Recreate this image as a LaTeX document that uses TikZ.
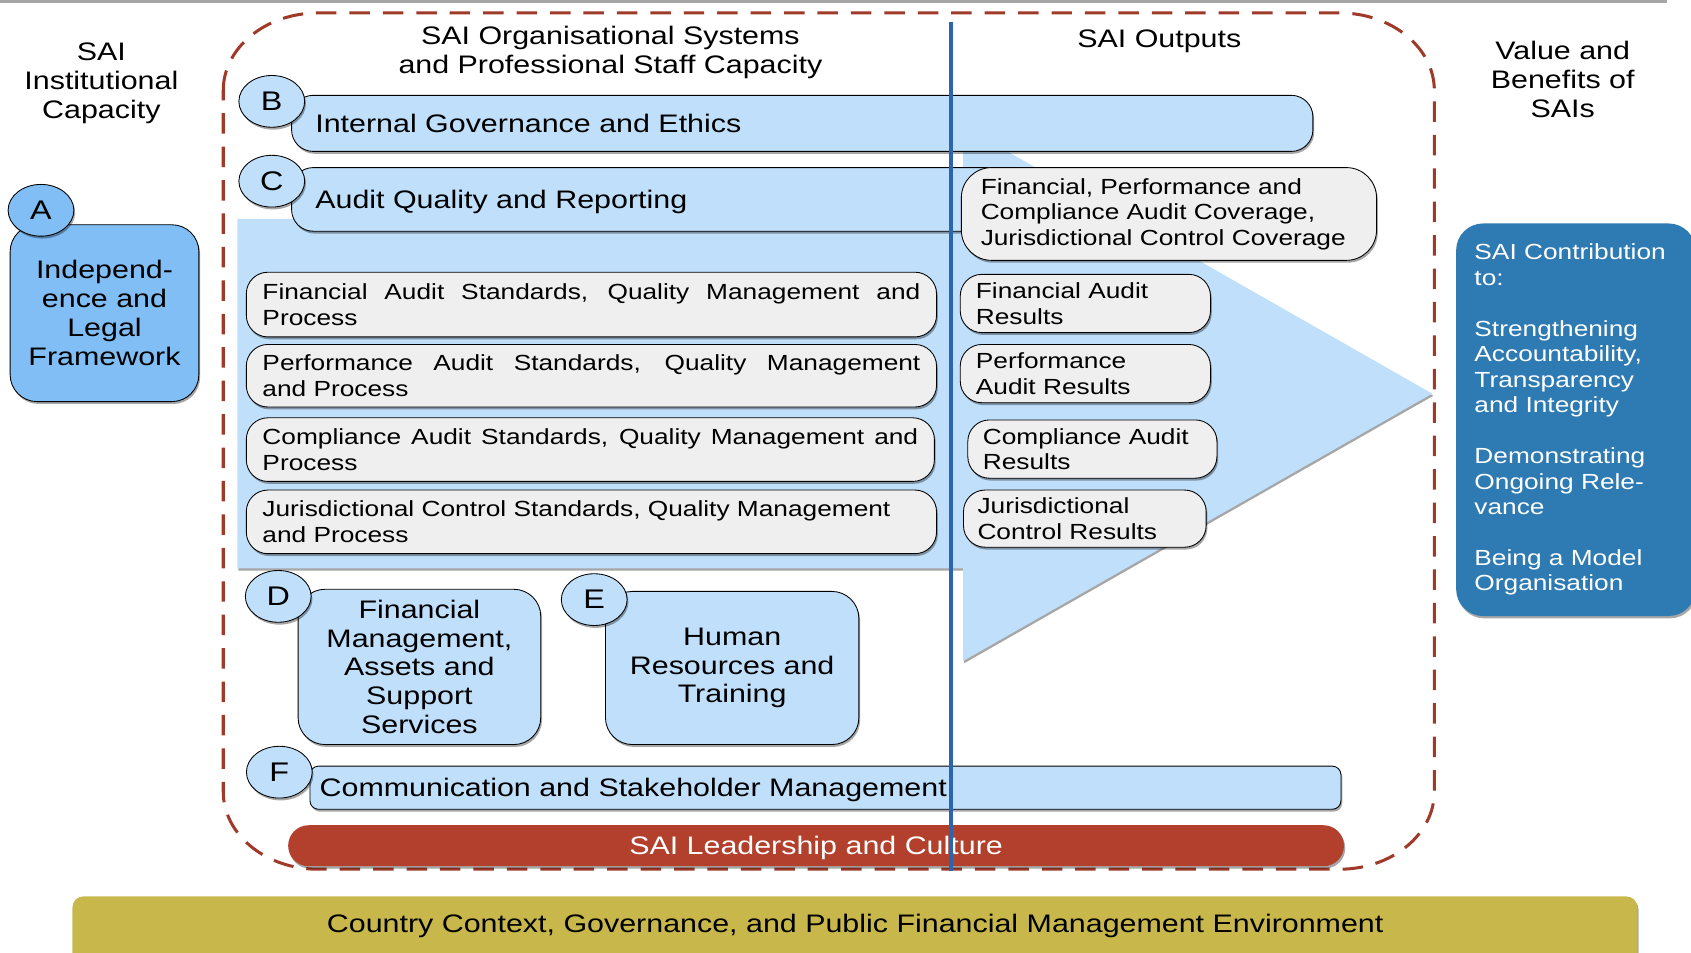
\documentclass[tikz,border=0pt]{standalone}
\usepackage{fontspec}
\setmainfont[FakeStretch=1.2]{Liberation Sans}
\usetikzlibrary{shapes.geometric,shadows}
\definecolor{lblue}{HTML}{BFDFFB}
\definecolor{ablue}{HTML}{80BEF5}
\definecolor{vblue}{HTML}{2E7AB2}
\definecolor{leadred}{HTML}{B2402C}
\definecolor{olive}{HTML}{C8B84C}
\definecolor{gfill}{HTML}{EFEFEF}
\definecolor{dashcol}{HTML}{A03A28}
\definecolor{bline}{HTML}{2A66B0}
\newcommand\fbig{\fontsize{23.5}{27}\selectfont}
\newcommand\fmid{\fontsize{23.5}{26.75}\selectfont}
\newcommand\fsm{\fontsize{20.3}{23.6}\selectfont}
\newcommand\fbadge{\fontsize{25}{28}\selectfont}
\begin{document}
\begin{tikzpicture}[x=1pt,y=-1pt,
  shad/.style={drop shadow={shadow xshift=1.2pt,shadow yshift=-2.2pt,opacity=0.35,fill=black}},
  bar/.style={draw=black,line width=0.8pt,fill=lblue,rounded corners=20pt,shad,anchor=north west,inner ysep=0pt,align=left,font=\fbig,text depth=0pt},
  gbox/.style={draw=black,line width=0.8pt,fill=gfill,rounded corners=20pt,shad,anchor=north west,inner ysep=0pt,font=\fsm},
  cbox/.style={draw=black,line width=0.8pt,fill=lblue,rounded corners=25pt,shad,anchor=north west,inner ysep=0pt,align=center,font=\fmid},
  badge/.style={ellipse,draw=black,line width=0.8pt,fill=lblue,shad,minimum width=61pt,minimum height=48pt,inner sep=0pt,font=\fbadge},
  hdr/.style={align=center,font=\fbig},
]
\useasboundingbox (0,0) rectangle (1568,883);
\clip (0,0) rectangle (1568,883);

% top grey rule
\coordinate (gl1) at (0,1.2);
\coordinate (gl2) at (1546,1.2);
\draw[black!35,line width=2.4pt] (gl1) -- (gl2);

% dashed outline
\draw[dashcol,line width=2.8pt,dash pattern=on 19pt off 12pt]
  (207,84) .. controls (207,44.2) and (246.4,12) .. (295,12) -- (1242,12)
  .. controls (1290.6,12) and (1330,44.2) .. (1330,84) -- (1330,734)
  .. controls (1330,773.8) and (1290.6,806) .. (1242,806) -- (295,806)
  .. controls (246.4,806) and (207,773.8) .. (207,734) -- cycle;

% big light-blue arrow
\fill[lblue,drop shadow={shadow xshift=1pt,shadow yshift=-2pt,opacity=0.35,fill=black}]
  (220,203) -- (893,203) -- (893,117) -- (1328,365) -- (893,613) -- (893,527) -- (220,527) -- cycle;

% headers
\node[hdr] (hA) at (94,77) {SAI\\Institutional\\Capacity};
\node[hdr] (hB) at (566,49) {SAI Organisational Systems\\and Professional Staff Capacity};
\node[hdr] (hC) at (1075,38) {SAI Outputs};
\node[hdr] (hD) at (1449,74) {Value and\\Benefits of\\SAIs};

% B and C bars
\node[bar,minimum width=947pt,minimum height=52pt,text width=903pt,inner xsep=22pt] (barB) at (270,88) {Internal Governance and Ethics};
\node[bar,minimum width=880pt,minimum height=59pt,text width=836pt,inner xsep=22pt] (barC) at (270,155) {Audit Quality and Reporting};

% coverage box
\node[gbox,rounded corners=28pt,minimum width=385pt,minimum height=86pt,text width=349pt,inner xsep=18pt,align=left] (cov) at (891,155)
  {Financial, Performance and\\Compliance Audit Coverage,\\Jurisdictional Control Coverage};

% standards boxes
\node[gbox,minimum width=640pt,minimum height=60pt,text width=610pt,inner xsep=15pt,align=justify] (std1) at (228,252)
  {Financial Audit Standards, Quality Management and\linebreak Process};
\node[gbox,minimum width=640pt,minimum height=58pt,text width=610pt,inner xsep=15pt,align=justify] (std2) at (228,319)
  {Performance Audit Standards, Quality Management\linebreak and Process};
\node[gbox,minimum width=638pt,minimum height=59pt,text width=608pt,inner xsep=15pt,align=justify] (std3) at (228,387)
  {Compliance Audit Standards, Quality Management and\linebreak Process};
\node[gbox,minimum width=640pt,minimum height=59pt,text width=610pt,inner xsep=15pt,align=justify] (std4) at (228,454)
  {Jurisdictional Control Standards, Quality Management\\and Process};

% result boxes
\node[gbox,minimum width=232pt,minimum height=54pt,text width=203pt,inner xsep=14.5pt,align=left] (res1) at (890,254) {Financial Audit\\Results};
\node[gbox,minimum width=232pt,minimum height=54pt,text width=203pt,inner xsep=14.5pt,align=left] (res2) at (890,319) {Performance\\Audit Results};
\node[gbox,minimum width=231pt,minimum height=54pt,text width=203pt,inner xsep=14pt,align=left] (res3) at (897,389) {Compliance Audit\\Results};
\node[gbox,minimum width=225pt,minimum height=53pt,text width=199pt,inner xsep=13pt,align=left] (res4) at (893,454) {Jurisdictional\\Control Results};

% D, E boxes
\node[cbox,minimum width=225pt,minimum height=144pt,text width=205pt] (boxD) at (276,546)
  {Financial\\Management,\\Assets and\\Support\\Services};
\node[cbox,minimum width=235pt,minimum height=142pt,text width=215pt] (boxE) at (561,548)
  {Human\\Resources and\\Training};

% F bar
\node[bar,rounded corners=8pt,minimum width=956pt,minimum height=40pt,text width=938pt,inner xsep=9pt] (barF) at (287,710)
  {Communication and Stakeholder Management};

% leadership bar
\node[fill=leadred,rounded corners=19pt,shad,anchor=north west,minimum width=979pt,minimum height=38pt,inner sep=0pt,text=white,font=\fbig,text depth=0pt] (lead) at (267,765)
  {SAI Leadership and Culture};

% blue divider line
\coordinate (vtop) at (882,20);
\coordinate (vbot) at (882,808);
\draw[bline,line width=3.4pt] (vtop) -- (vbot);

% badges
\node[badge] (bB) at (252,94) {B};
\node[badge] (bC) at (252,168) {C};
\node[badge] (bD) at (258,553) {D};
\node[badge] (bE) at (551,556) {E};
\node[badge] (bF) at (259,716) {F};

% A box
\node[cbox,fill=ablue,minimum width=175pt,minimum height=164pt,text width=160pt,font=\fbig] (boxA) at (9,208)
  {Independ-\\ence and\\Legal\\Framework};
\node[badge,fill=ablue] (bA) at (38,195) {A};

% value box
\node[fill=vblue,rounded corners=25pt,shad,anchor=north west,minimum width=222pt,minimum height=364pt,text width=188pt,inner xsep=17pt,inner ysep=0pt,align=left,text=white,font=\fsm] (val) at (1350,207)
  {SAI Contribution\\to:\\[23.6pt]Strengthening\\Accountability,\\Transparency\\and Integrity\\[23.6pt]Demonstrating\\Ongoing Rele-\\vance\\[23.6pt]Being a Model\\Organisation};

% country bar
\node[fill=olive,rounded corners=10pt,shad,anchor=north west,minimum width=1451pt,minimum height=70pt,inner sep=0pt] (country) at (67,831) {};
\node[font=\fbig] (countrytxt) at (793,859) {Country Context, Governance, and Public Financial Management Environment};
\end{tikzpicture}
\end{document}
